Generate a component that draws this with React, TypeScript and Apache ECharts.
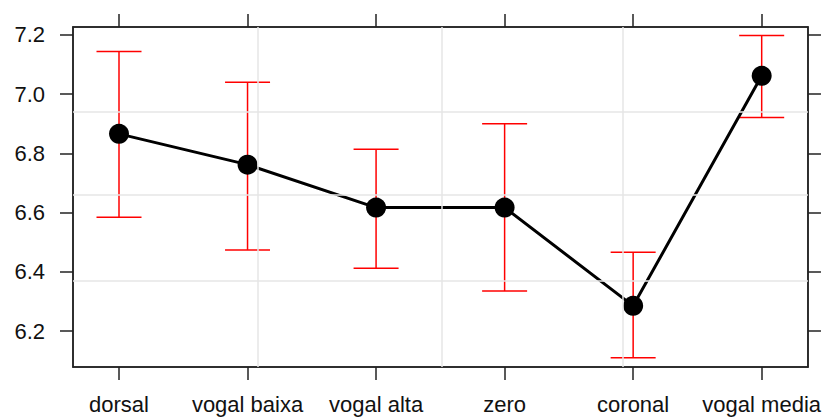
import React, { useEffect, useRef } from "react";
import * as echarts from "echarts";

const categories = ["dorsal", "vogal baixa", "vogal alta", "zero", "coronal", "vogal media"];
const means = [6.866, 6.762, 6.617, 6.617, 6.285, 7.062];
const lowerCI = [6.584, 6.474, 6.412, 6.335, 6.11, 6.921];
const upperCI = [7.144, 7.04, 6.814, 6.9, 6.466, 7.198];
const yTicks = [6.2, 6.4, 6.6, 6.8, 7.0, 7.2];
const xTicks = [0, 1, 2, 3, 4, 5];
const vGrid = [1.079, 2.508, 3.923];
const hGrid = [6.942, 6.655, 6.366];

const X_MIN = -0.3579;
const X_MAX = 5.36;
const Y_MIN = 6.0784;
const Y_MAX = 7.227;

export default function App() {
  const ref = useRef<HTMLDivElement>(null);
  useEffect(() => {
    if (!ref.current) return;
    const chart = echarts.init(ref.current, undefined, { renderer: "svg" });
    const font = "'Liberation Sans', Arial, sans-serif";
    const axisLine = { show: true, onZero: false, lineStyle: { color: "#222", width: 1.5 } };
    const tickCommon = { show: true, inside: false, length: 13, lineStyle: { color: "#222", width: 1.5 } };
    chart.setOption({
      animation: false,
      backgroundColor: "#fff",
      grid: {
        left: 73,
        top: 27,
        width: 735,
        height: 340,
        show: true,
        borderColor: "#222",
        borderWidth: 1.5,
        containLabel: false,
      },
      xAxis: [
        {
          type: "value",
          min: X_MIN,
          max: X_MAX,
          position: "bottom",
          axisLine,
          axisTick: { ...tickCommon, customValues: xTicks },
          axisLabel: {
            show: true,
            customValues: xTicks,
            margin: 26,
            fontSize: 22,
            fontFamily: font,
            color: "#111",
            formatter: (v: number) => categories[Math.round(v)],
          },
          splitLine: { show: false },
        },
        {
          type: "value",
          min: X_MIN,
          max: X_MAX,
          position: "top",
          axisLine,
          axisTick: { ...tickCommon, customValues: xTicks },
          axisLabel: { show: false },
          splitLine: { show: false },
        },
      ],
      yAxis: [
        {
          type: "value",
          min: Y_MIN,
          max: Y_MAX,
          position: "left",
          axisLine,
          axisTick: { ...tickCommon, customValues: yTicks },
          axisLabel: {
            show: true,
            customValues: yTicks,
            margin: 28,
            fontSize: 22,
            fontFamily: font,
            color: "#111",
            formatter: (v: number) => v.toFixed(1),
          },
          splitLine: { show: false },
        },
        {
          type: "value",
          min: Y_MIN,
          max: Y_MAX,
          position: "right",
          axisLine,
          axisTick: { ...tickCommon, customValues: yTicks },
          axisLabel: { show: false },
          splitLine: { show: false },
        },
      ],
      series: [
        {
          type: "scatter",
          data: [],
          z: 1,
          silent: true,
          markLine: {
            silent: true,
            symbol: ["none", "none"],
            label: { show: false },
            lineStyle: { color: "#e6e6e6", width: 1.5, type: "solid" },
            data: [
              ...vGrid.map((v) => ({ xAxis: v })),
              ...hGrid.map((v) => ({ yAxis: v })),
            ],
          },
        },
        {
          type: "custom",
          z: 2,
          silent: true,
          encode: { x: 0, y: [1, 2] },
          data: xTicks.map((i) => [i, lowerCI[i], upperCI[i]]),
          renderItem: (params: any, api: any) => {
            const x = api.value(0);
            const lo = api.coord([x, api.value(1)]);
            const hi = api.coord([x, api.value(2)]);
            const hw = 22.5;
            const style = { stroke: "#ff0000", lineWidth: 1.5, fill: null };
            return {
              type: "group",
              children: [
                { type: "line", shape: { x1: lo[0], y1: lo[1], x2: hi[0], y2: hi[1] }, style },
                { type: "line", shape: { x1: lo[0] - hw, y1: lo[1], x2: lo[0] + hw, y2: lo[1] }, style },
                { type: "line", shape: { x1: hi[0] - hw, y1: hi[1], x2: hi[0] + hw, y2: hi[1] }, style },
              ],
            };
          },
        },
        {
          type: "line",
          z: 3,
          data: means.map((m, i) => [i, m]),
          symbol: "circle",
          symbolSize: 20,
          showSymbol: true,
          itemStyle: { color: "#000" },
          lineStyle: { color: "#000", width: 3 },
        },
      ],
    });
    return () => chart.dispose();
  }, []);
  return (
    <div
      ref={ref}
      style={{ position: "fixed", left: 0, top: 0, width: 824, height: 419 }}
    />
  );
}
